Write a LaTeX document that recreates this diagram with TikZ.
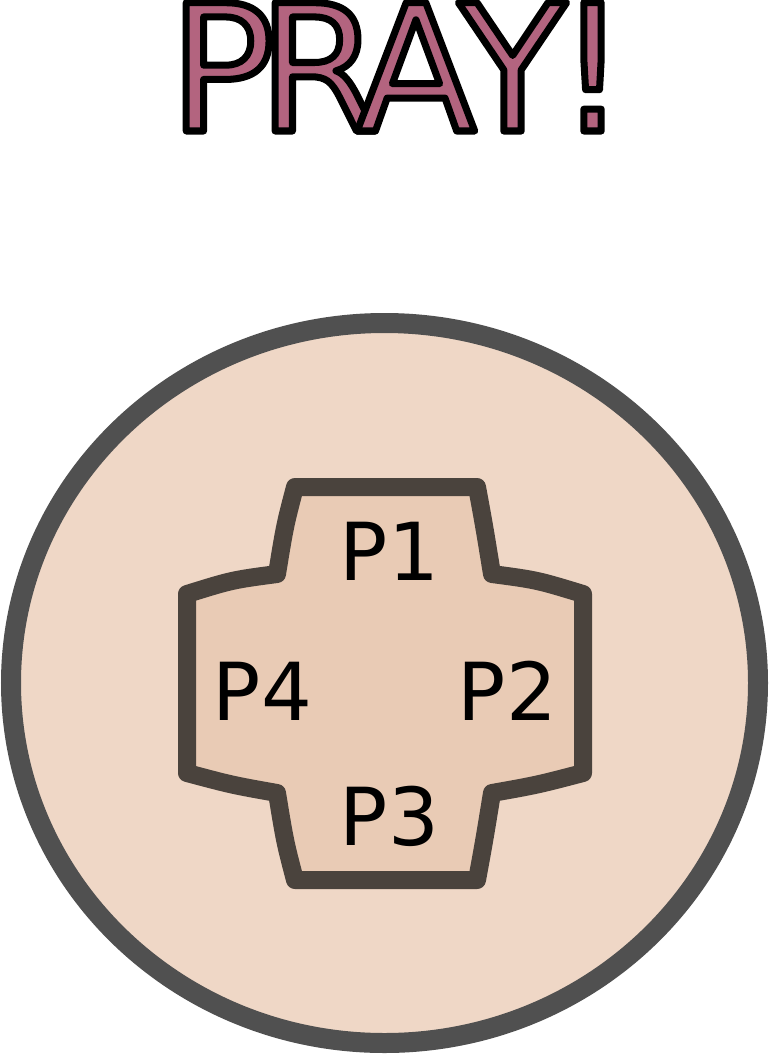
\documentclass[tikz,border=0pt]{standalone}
\usepackage{fontspec}
\newfontfamily\dv{DejaVu Sans}
\definecolor{pinkT}{HTML}{B3647F}
\definecolor{discfill}{HTML}{EFD7C6}
\definecolor{discline}{HTML}{505050}
\definecolor{crossfill}{HTML}{E9CBB5}
\definecolor{crossline}{HTML}{4A433D}
\newcommand\outlined[1]{\special{pdf:literal direct 0 0 0 RG 7 w 1 j 2 Tr}#1\special{pdf:literal direct 0 Tr}}
\tikzset{
  titleletter/.style={font=\dv\fontsize{176}{176}\selectfont, text=pinkT, inner sep=0pt, anchor=base},
  plabel/.style={font=\dv\fontsize{80}{80}\selectfont, text=black, inner sep=0pt, anchor=base},
  disc/.style={draw=discline, fill=discfill, line width=20pt},
  crossbox/.style={draw=crossline, fill=crossfill, line width=18pt, line join=round}
}
\begin{document}
\begin{tikzpicture}[x=1pt,y=-1pt]
\useasboundingbox (0,0) rectangle (770,1055);
\node[titleletter] (tP) at (222,131) {\outlined{P}};
\node[titleletter] (tR) at (319,131) {\outlined{R}};
\node[titleletter] (tA) at (416,131) {\outlined{A}};
\node[titleletter] (tY) at (512.5,131) {\outlined{Y}};
\node[titleletter] (tX) at (592.5,131) {\outlined{!}};
\draw[disc] (384.5,683) ellipse [x radius=373.5, y radius=360];
\draw[crossbox] (295,487) -- (477,487)
  .. controls (484,525) .. (492,574)
  .. controls (537,580) .. (583,594)
  -- (583,773)
  .. controls (537,785) .. (492,793)
  .. controls (484,842) .. (477,880)
  -- (295,880)
  .. controls (285,842) .. (277,793)
  .. controls (232,785) .. (187,773)
  -- (187,594)
  .. controls (232,580) .. (277,574)
  .. controls (285,525) .. cycle;
\node[plabel] (p1) at (389.5,580) {P1};
\node[plabel] (p2) at (507.5,720) {P2};
\node[plabel] (p3) at (389.5,845) {P3};
\node[plabel] (p4) at (262.5,720) {P4};
\end{tikzpicture}
\end{document}
